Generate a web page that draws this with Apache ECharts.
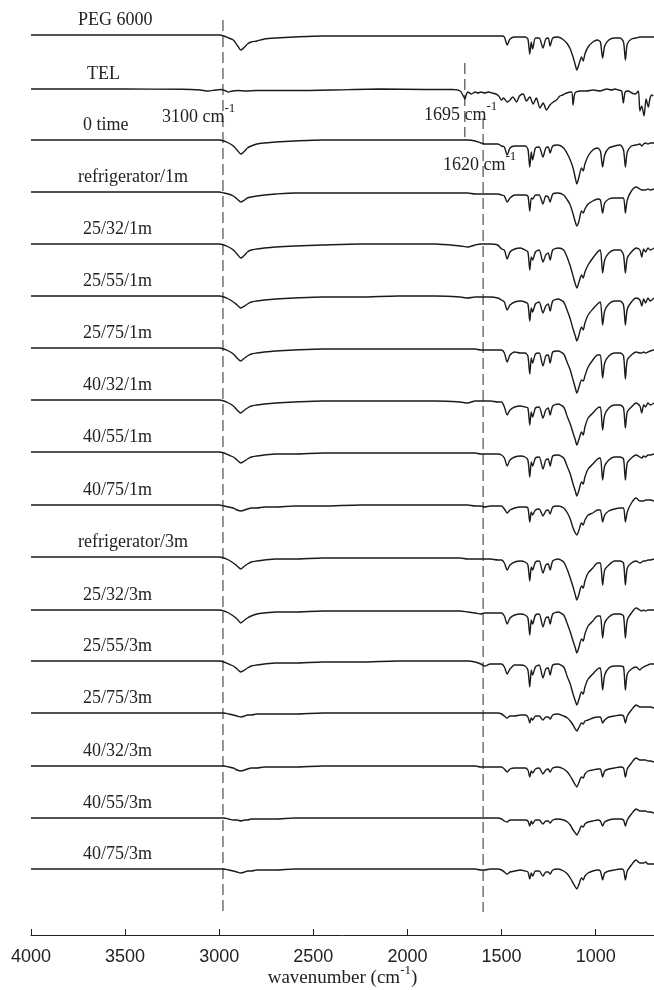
<!DOCTYPE html>
<html><head><meta charset="utf-8">
<script src="https://cdn.jsdelivr.net/npm/echarts@6/dist/echarts.min.js"></script>
<style>html,body{margin:0;padding:0;background:#fff}#c{width:654px;height:990px}</style>
</head><body><div id="c"></div>
<script>
// ---- DATA ----
const traceNames = ["PEG 6000","TEL","0 time","refrigerator/1m","25/32/1m","25/55/1m","25/75/1m","40/32/1m","40/55/1m","40/75/1m","refrigerator/3m","25/32/3m","25/55/3m","25/75/3m","40/32/3m","40/55/3m","40/75/3m"];
// vertical offsets (stacking offset units, increasing downward)
const offsets = [35, 89, 140, 192, 244, 296, 348, 400, 452, 505, 557, 610, 661, 713, 766, 818, 869];
const xTicks = [4000, 3500, 3000, 2500, 2000, 1500, 1000];

// shared wavenumber grid (cm-1) for PEG and formulations
const wnLeft = [4000,3600,3200,3000,2975,2950,2925,2905,2885,2865,2850,2830,2800,2760,2700,2600,2450,2250,2050,1850,1720,1680,1640,1610,1590,1560,1520];
const wnRight = [1500,1485,1470,1455,1430,1400,1375,1360,1350,1342,1335,1320,1300,1280,1265,1252,1242,1228,1200,1170,1150,1135,1120,1108,1100,1090,1075,1066,1057,1040,1015,990,975,963,952,930,900,870,852,842,832,810,785,765,755,745,735,722,710,690];

// absorbance-like depth (downward) for each trace on the shared grid
const peg6000 = [0,0,0,0,1,3,5,10,15,12,9,7,6,4,3,2,1,1,1,1,1,1,1,1,1,1,1,
  1,2,10,4,2,2,2,4,19,7,14,3,3,13,4,3,11,3,2,5,9,14,22,30,35,30,22,26,19,12,7,5,7,23,11,5,3,3,7,25,9,4,3,2,2,2,2,2,2,2];
const time0 = [0,0,0,0,1,3,6,10,14,11,8,6,4,3,2,1,0,0,0,0,0,0,1,3,4,4,4,
  6,7,15,8,6,6,6,9,27,12,20,8,7,17,8,7,13,6,5,8,14,20,28,38,44,38,28,31,24,16,10,8,11,27,15,8,6,5,10,27,12,6,5,4,6,4,3,4,3,3];
const fridge1m = [0,0,0,0,1,2,4,7,10,8,6,5,4,3,2,1,1,1,1,1,1,1,2,2,2,2,2,
  3,4,10,6,3,3,3,4,19,6,7,3,3,12,4,5,10,2,1,3,8,13,22,30,34,30,19,21,17,12,9,7,8,21,11,7,6,6,6,21,8,-1,-5,-3,-2,-2,-2,-3,-2,-3];
const f25_32_1m = [0,0,0,0,1,3,6,10,14,11,8,6,5,4,3,2,1,0,0,0,2,3,1,0,0,0,1,
  5,6,15,8,5,4,6,8,26,13,16,8,6,18,11,9,16,6,4,6,14,22,32,40,44,39,31,34,28,21,14,8,6,29,16,9,6,6,11,29,14,8,4,6,13,5,8,4,6,4];
const f25_55_1m = [0,0,0,0,1,3,6,9,12,10,8,6,5,4,3,2,1,1,0,0,1,2,1,1,1,1,2,
  4,6,14,9,6,5,6,8,25,12,16,8,6,17,10,8,15,5,3,6,15,23,33,40,45,40,31,34,27,19,13,8,6,29,15,8,5,5,9,29,13,6,2,4,10,3,7,2,5,2];
const f25_75_1m = [0,0,0,0,1,3,6,10,13,10,8,6,5,4,3,2,1,1,1,1,1,1,1,2,2,2,2,
  2,5,14,7,4,5,5,8,26,10,15,6,5,18,8,7,15,4,3,6,15,22,32,40,45,40,32,33,28,19,12,7,7,30,15,8,5,5,8,31,12,7,4,5,5,4,5,4,3,2];
const f40_32_1m = [0,0,0,0,1,3,6,10,13,10,8,6,5,4,3,2,1,1,1,1,2,3,1,1,1,1,2,
  2,7,15,10,7,6,7,8,25,12,17,8,7,18,10,8,15,6,4,7,17,24,33,40,45,40,32,35,27,18,13,8,7,30,15,8,5,5,8,28,12,7,3,6,13,5,7,3,5,3];
const f40_55_1m = [0,0,0,0,1,3,5,8,11,9,7,5,4,3,2,2,1,1,1,1,1,1,1,2,2,2,2,
  3,6,14,8,5,4,5,8,25,10,14,6,5,17,8,7,14,4,3,6,15,22,32,39,44,39,30,32,25,17,12,7,6,28,14,8,5,5,7,28,11,6,3,5,6,4,5,3,3,2];
const f40_75_1m = [0,0,0,0,1,2,3,5,6,5,4,3,3,2,2,1,1,0,0,0,0,0,1,1,2,1,1,
  1,4,8,5,3,2,2,3,17,7,10,5,4,11,6,5,9,2,1,3,8,14,23,28,30,26,18,20,15,10,8,5,5,17,10,6,4,3,3,17,7,-2,-7,-4,-4,-4,-5,-5,-5,-4];
const fridge3m = [0,0,0,0,1,3,6,9,12,9,7,5,4,3,2,2,1,1,1,1,1,2,2,2,2,2,3,
  3,6,13,8,5,4,5,8,24,10,13,5,4,16,8,7,13,4,2,5,13,21,30,38,43,38,29,31,24,16,11,6,6,28,13,8,4,4,6,28,11,6,4,6,5,4,4,3,3,2];
const f25_32_3m = [0,0,0,0,1,3,6,9,13,10,8,6,4,3,2,2,1,1,1,1,1,2,3,4,3,3,3,
  3,6,14,8,5,4,5,8,25,10,14,5,4,17,8,7,14,4,2,5,14,22,31,38,43,38,29,31,24,16,11,6,6,28,13,7,4,4,6,28,10,3,-2,0,1,0,1,0,0,0];
const f25_55_3m = [0,0,0,0,1,3,5,8,11,9,7,5,4,3,2,2,1,1,0,0,0,0,1,3,5,3,3,
  3,6,13,8,4,4,5,9,26,9,14,6,4,17,8,7,14,4,3,6,16,23,33,40,44,39,31,33,26,18,13,8,7,29,14,7,5,5,6,29,13,8,6,9,7,6,5,4,3,3];
const f25_75_3m = [0,0,0,0,0,1,2,3,4,3,2,2,1,1,1,1,0,0,0,0,0,0,0,0,0,0,0,
  1,3,5,3,3,2,2,4,10,5,7,3,3,7,4,4,6,2,1,3,5,8,12,16,18,15,10,11,8,7,5,4,4,10,7,4,3,2,3,10,3,-3,-8,-6,-6,-6,-6,-6,-6,-5];
const f40_32_3m = [0,0,0,0,0,1,2,4,5,4,3,2,2,1,1,1,0,0,0,0,0,0,0,1,1,1,1,
  1,3,6,3,2,2,2,4,11,5,7,3,2,8,4,3,6,2,1,3,6,10,15,19,21,17,11,12,8,5,4,3,3,11,5,3,2,1,2,11,3,-3,-8,-6,-6,-6,-6,-5,-5,-4];
const f40_55_3m = [0,0,0,0,0,1,2,2,3,2,2,1,1,1,1,0,0,0,0,0,0,0,0,0,0,0,0,
  1,3,4,2,2,2,2,3,8,3,6,2,2,6,3,3,5,2,1,2,4,7,12,15,17,14,8,9,6,4,3,2,3,8,4,2,1,1,2,8,2,-4,-9,-7,-7,-7,-7,-6,-6,-5];
const f40_75_3m = [0,0,0,0,0,1,2,3,4,3,2,2,1,1,1,0,0,0,0,0,0,0,0,1,1,0,0,
  1,3,5,3,2,1,2,3,10,4,7,2,2,7,3,3,5,1,0,2,5,9,14,18,20,16,9,11,7,4,2,1,2,11,4,2,1,0,1,11,2,-4,-9,-6,-6,-6,-7,-5,-5,-5];

// telmisartan (TEL) has its own wavenumber grid
const telWn = [4000,3500,3200,3100,3060,3020,2990,2970,2950,2930,2900,2860,2800,2600,2400,2150,1900,1760,1720,1700,1695,1688,1680,1660,1640,1625,1610,1590,1570,1550,1530,1515,1500,1490,1470,1455,1440,1420,1405,1385,1368,1350,1332,1315,1296,1279,1261,1243,1225,1208,1190,1175,1155,1128,1120,1110,1085,1050,1013,977,941,915,898,880,862,853,843,826,808,790,773,765,755,743,732,720,712,703,694];
const telDepth = [0,0,0.3,1,2,1,0.5,1.5,3,2,1.5,2,1.5,1.5,1,0,0.5,0.5,2,8,10,6,3,5,3,4,3,4,3,4,5,7,11,9,13,11,8,13,7,5,12,8,15,9,19,14,21,16,13,11,7,6,4,3,16,4,2,2,1,2,0,1,0,1,2,14,3,2,4,5,2,22,17,27,10,18,10,6,7];

// dashed marker lines: wavenumber and vertical extent (offset units)
const markerWn = [2980, 1695, 1598];
const markerTop = [20, 63, 118];
const markerBottom = [914, 137, 912];

const depths = [peg6000, null, time0, fridge1m, f25_32_1m, f25_55_1m, f25_75_1m, f40_32_1m, f40_55_1m, f40_75_1m, fridge3m, f25_32_3m, f25_55_3m, f25_75_3m, f40_32_3m, f40_55_3m, f40_75_3m];
const wnShared = wnLeft.concat(wnRight);

// ---- CHART ----
const chart = echarts.init(document.getElementById('c'), null, {renderer: 'canvas'});
const series = [];
traceNames.forEach((name, i) => {
  let data;
  if (i === 1) data = telWn.map((w, k) => [w, offsets[i] + telDepth[k]]);
  else data = wnShared.map((w, k) => [w, offsets[i] + depths[i][k]]);
  series.push({
    name, type: 'line', data, showSymbol: false, symbol: 'none', smooth: 0.25,
    lineStyle: {color: '#1a1a1a', width: 1.4}, silent: true, animation: false, z: 3
  });
});
markerWn.forEach((w, i) => {
  series.push({
    type: 'line', data: [[w, markerTop[i]], [w, markerBottom[i]]], symbol: 'none',
    lineStyle: {color: '#2a2a2a', width: 1, type: [11, 5]}, silent: true, animation: false, z: 2
  });
});

const serif = '"Liberation Serif", "Times New Roman", serif';
const labelX = [78, 87, 83, 78, 83, 83, 83, 83, 83, 83, 78, 83, 83, 83, 83, 83, 83];
const graphics = traceNames.map((n, i) => ({
  type: 'text', left: labelX[i], top: offsets[i] - 24,
  style: {text: n, font: '18px ' + serif, fill: '#222'}, silent: true
}));
function ann(x, y, num) {
  return {
    type: 'text', left: x, top: y,
    style: {
      text: '{a|' + num + ' cm}{s|-1}',
      rich: {
        a: {fontFamily: serif, fontSize: 18, fill: '#222', color: '#222', verticalAlign: 'bottom', lineHeight: 24},
        s: {fontFamily: serif, fontSize: 13, fill: '#222', color: '#222', verticalAlign: 'top', lineHeight: 24}
      }
    }, silent: true
  };
}
graphics.push(ann(162, 102, '3100'));
graphics.push(ann(424, 100, '1695'));
graphics.push(ann(443, 150, '1620'));

chart.setOption({
  animation: false,
  backgroundColor: '#fff',
  grid: {left: 31, right: 0, top: 0, bottom: 55, containLabel: false, outerBoundsMode: 'none'},
  xAxis: {
    type: 'value', inverse: true, min: 690, max: 4000,
    axisLine: {show: true, onZero: false, lineStyle: {color: '#222', width: 1}},
    axisTick: {show: true, inside: true, length: 6, lineStyle: {color: '#222'}, customValues: xTicks},
    axisLabel: {customValues: xTicks, color: '#222', fontSize: 18, fontFamily: '"Liberation Sans", Arial, sans-serif', margin: 13,
      formatter: v => String(v)},
    splitLine: {show: false},
    name: '{a|wavenumber (cm}{s|-1}{a|)}',
    nameLocation: 'middle', nameGap: 29, nameMoveOverlap: false,
    nameTextStyle: {
      rich: {
        a: {fontFamily: serif, fontSize: 19, color: '#222', verticalAlign: 'bottom', lineHeight: 24},
        s: {fontFamily: serif, fontSize: 13, color: '#222', verticalAlign: 'top', lineHeight: 24}
      }
    }
  },
  yAxis: {type: 'value', inverse: true, min: 0, max: 935, show: false},
  series,
  graphic: graphics
});
</script></body></html>
